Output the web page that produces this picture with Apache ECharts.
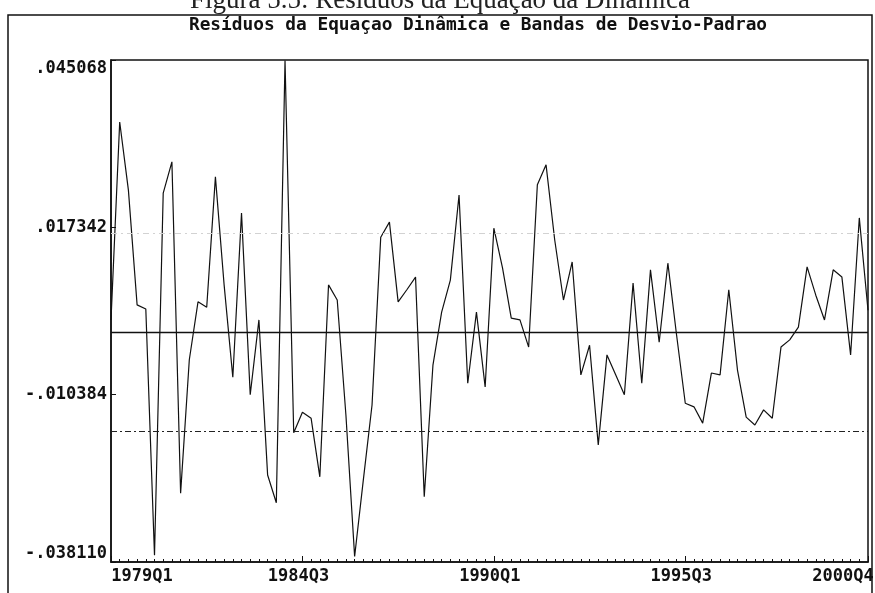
<!DOCTYPE html>
<html>
<head>
<meta charset="utf-8">
<script src="https://cdn.jsdelivr.net/npm/echarts@6/dist/echarts.min.js"></script>
<style>
html,body{margin:0;padding:0;background:#fff;}
#c{width:875px;height:593px;}
</style>
</head>
<body>
<div id="c"></div>
<script>
// ---- data ----
var startYear = 1979, endYear = 2000;
var categories = [];
for (var y = startYear; y <= endYear; y++) { for (var q = 1; q <= 4; q++) categories.push(y + 'Q' + q); }
var tickLabels = ['1979Q1', '1984Q3', '1990Q1', '1995Q3', '2000Q4'];
var yTickValues = [-0.038110, -0.010384, 0.017342, 0.045068];
var residuals = [
  0.0020, 0.0348, 0.0235, 0.0045, 0.0038, -0.0370, 0.0230, 0.0282, -0.0267, -0.0046,
  0.0050, 0.0041, 0.0257, 0.0078, -0.0075, 0.0197, -0.0104, 0.0020, -0.0237, -0.0283,
  0.0450, -0.0167, -0.0133, -0.0143, -0.0240, 0.0078, 0.0053, -0.0138, -0.0372, -0.0245,
  -0.0121, 0.0157, 0.0182, 0.0050, 0.0070, 0.0091, -0.0273, -0.0055, 0.0033, 0.0086,
  0.0227, -0.0085, 0.0033, -0.0091, 0.0172, 0.0106, 0.0023, 0.0020, -0.0025, 0.0244,
  0.0277, 0.0152, 0.0053, 0.0116, -0.0071, -0.0022, -0.0187, -0.0038, -0.0071, -0.0104,
  0.0081, -0.0085, 0.0103, -0.0017, 0.0114, -0.0005, -0.0118, -0.0124, -0.0151, -0.0068,
  -0.0071, 0.0070, -0.0063, -0.0141, -0.0154, -0.0129, -0.0143, -0.0025, -0.0013, 0.0008,
  0.0108, 0.0061, 0.0020, 0.0103, 0.0091, -0.0038, 0.0189, 0.0036
];
var zeroLine = 0;
var bandUpper = 0.0164;
var bandLower = -0.0164;
var chartTitle = 'Resíduos da Equaçao Dinâmica e Bandas de Desvio-Padrao';
var figureCaption = 'Figura 5.5: Resíduos da Equação da Dinâmica';

// ---- chart ----
var mono = '"DejaVu Sans Mono", "Liberation Mono", monospace';
var chart = echarts.init(document.getElementById('c'), null, {renderer: 'canvas'});
var yMin = yTickValues[0], yMax = yTickValues[yTickValues.length - 1];
var yInt = yTickValues[1] - yTickValues[0];

function fmtY(v) {
  var s = Math.abs(v).toFixed(6).replace(/^0/, '');
  return (v < -1e-9 ? '-' : '') + s;
}

var lbl = {fontFamily: mono, fontSize: 17, fontWeight: 'bold', color: '#111'};
var labelRich = {
  a: Object.assign({}, lbl, {padding: [0, 0, 0, 62]}),
  m: Object.assign({}, lbl, {padding: [0, 8, 0, 0]}),
  z: Object.assign({}, lbl, {padding: [0, 50, 0, 0]})
};

var option = {
  animation: false,
  backgroundColor: '#fff',
  grid: {left: 111, top: 60, right: 7, bottom: 31, outerBoundsMode: 'none', containLabel: false,
         show: true, borderColor: '#111', borderWidth: 1.5, backgroundColor: 'transparent'},
  graphic: [
    {type: 'polyline', silent: true, shape: {points: [[8, 600], [8, 15], [872, 15], [872, 600]]},
     style: {stroke: '#111', lineWidth: 1.5, fill: null}},
    {type: 'text', silent: true, x: 440, y: 14,
     style: {text: figureCaption, font: '27px "Liberation Serif", "DejaVu Serif", serif', fill: '#222', align: 'center', verticalAlign: 'bottom'}},
    {type: 'text', silent: true, x: 478, y: 25,
     style: {text: chartTitle, font: 'bold 17.8px ' + mono, fill: '#111', align: 'center', verticalAlign: 'middle'}}
  ],
  xAxis: [{
    type: 'category',
    data: categories,
    boundaryGap: false,
    axisLine: {show: true, onZero: false, lineStyle: {color: '#111', width: 1.5}},
    axisTick: {show: true, inside: true, length: 3, interval: 0, lineStyle: {color: '#111', width: 1}},
    axisLabel: {
      show: true, margin: 6, color: '#111', fontFamily: mono, fontSize: 17, fontWeight: 'bold',
      interval: function (idx, val) { return tickLabels.indexOf(val) >= 0; },
      formatter: function (val) {
        var k = tickLabels.indexOf(val);
        if (k === 0) return '{a|' + val + '}';
        if (k === tickLabels.length - 1) return '{z|' + val + '}';
        return '{m|' + val + '}';
      },
      rich: labelRich
    },
    splitLine: {show: false}
  }, {
    type: 'category',
    data: categories,
    boundaryGap: false,
    position: 'bottom',
    axisLine: {show: false, onZero: false},
    axisTick: {show: true, inside: true, length: 6,
      interval: function (idx, val) { return tickLabels.indexOf(val) >= 0; },
      lineStyle: {color: '#111', width: 1}},
    axisLabel: {show: false},
    splitLine: {show: false}
  }],
  yAxis: {
    type: 'value',
    min: yMin, max: yMax, interval: yInt,
    axisLine: {show: true, lineStyle: {color: '#111', width: 1.5}},
    axisTick: {show: true, inside: true, length: 5, lineStyle: {color: '#111', width: 1}},
    axisLabel: {
      show: true, margin: 4, color: '#111', fontFamily: mono, fontSize: 17, fontWeight: 'bold',
      formatter: fmtY,
      verticalAlignMinLabel: 'bottom', verticalAlignMaxLabel: 'top'
    },
    splitLine: {show: false}
  },
  series: [{
    type: 'line',
    data: residuals,
    xAxisIndex: 0,
    symbol: 'none',
    lineStyle: {color: '#111', width: 1.2},
    markLine: {
      silent: true, symbol: 'none', precision: 6, label: {show: false},
      data: [
        {yAxis: zeroLine, lineStyle: {color: '#111', width: 1.3, type: 'solid'}},
        {yAxis: bandLower, lineStyle: {color: '#222', width: 1, type: [6, 3, 2, 3]}},
        {yAxis: bandUpper, lineStyle: {color: '#d2d2d2', width: 1, type: [6, 4, 2, 4]}}
      ]
    }
  }]
};
chart.setOption(option);
</script>
</body>
</html>
